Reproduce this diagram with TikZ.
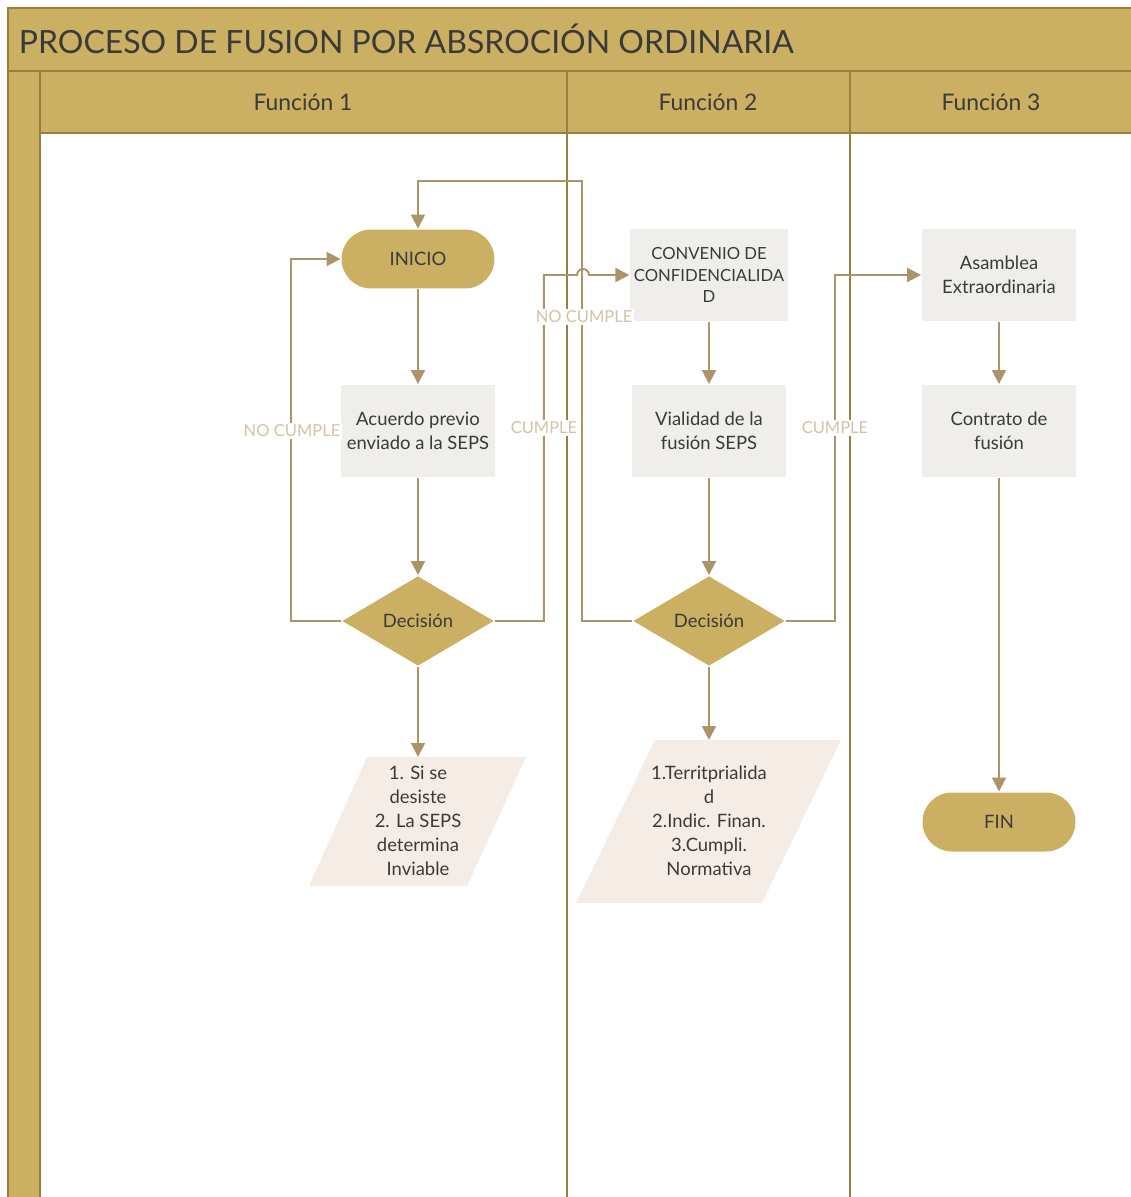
\documentclass[tikz,border=0pt]{standalone}
\usepackage{fontspec}
\setmainfont{Lato}
\usetikzlibrary{arrows.meta, positioning, shapes.geometric, calc}
\definecolor{cgold}{HTML}{CBAF62}
\definecolor{cgoldline}{HTML}{9B7F3F}
\definecolor{cflow}{HTML}{AD9468}
\definecolor{clabel}{HTML}{D2C3A6}
\definecolor{cbox}{HTML}{EFEEEA}
\definecolor{cpara}{HTML}{F6ECE6}
\definecolor{ctext}{HTML}{3A3A3A}
\tikzset{
  every picture/.style={line width=1.1pt},
  box/.style={fill=cbox, text=ctext, align=center, inner sep=2pt, minimum width=3.08cm, minimum height=1.84cm, font=\fontsize{10.5}{13.6}\selectfont},
  pill/.style={fill=cgold, text=ctext, align=center, rounded corners=0.59cm, minimum width=3.06cm, minimum height=1.18cm, font=\fontsize{10.5}{13.6}\selectfont},
  decide/.style={diamond, fill=cgold, text=ctext, inner sep=0pt, minimum width=3.04cm, minimum height=1.8cm, font=\fontsize{10.5}{13.6}\selectfont},
  flow/.style={-{Triangle[length=2.8mm, width=2.8mm]}, draw=cflow, line width=1.1pt},
  lane/.style={draw=cgoldline, line width=1.1pt},
  title/.style={text=ctext, font=\fontsize{18.2}{20}\selectfont},
}

\begin{document}
\begin{tikzpicture}[
    x=0.02cm, y=-0.02cm,
    lanehead/.style={text=ctext, font=\fontsize{13}{15}\selectfont},
    lbl/.style={fill=white, text=clabel, inner sep=1pt, font=\fontsize{9.4}{11}\selectfont},
    paratext/.style={text=ctext, align=center, font=\fontsize{10.5}{13.6}\selectfont},
  ]
  \useasboundingbox (0,0) rectangle (1131,1197);

  % pool and lanes
  \fill[cgold] (8,8) rectangle (1131,71);
  \fill[cgold] (8,71) rectangle (40,1197);
  \fill[cgold] (40,71) rectangle (1131,133);
  \draw[lane] (8,1197) -- (8,8) -- (1131,8);
  \draw[lane] (8,71) -- (1131,71);
  \draw[lane] (40,1197) -- (40,71);
  \draw[lane] (40,133) -- (1131,133);
  \draw[lane] (567,71) -- (567,1197);
  \draw[lane] (850,71) -- (850,1197);
  \node[title, anchor=west] (titulo) at (12,39) {PROCESO DE FUSION POR ABSROCIÓN ORDINARIA};
  \node[lanehead] (f1) at (303,102) {Función 1};
  \node[lanehead] (f2) at (708,102) {Función 2};
  \node[lanehead] (f3) at (991,102) {Función 3};

  % funcion 1
  \node[pill] (inicio) at (418,259) {INICIO};
  \node[box] (acuerdo) at (418,431) {Acuerdo previo\\enviado a la SEPS};
  \node[decide] (dec1) at (418,621) {Decisión};
  \fill[cpara] (309,886) -- (367,757) -- (526,757) -- (467,886) -- cycle;
  \node[paratext] (sal1) at (418,821) {1. Si se\\desiste\\2. La SEPS\\determina\\Inviable};
  \draw[flow] (inicio) -- (acuerdo);
  \draw[flow] (acuerdo) -- (dec1);
  \draw[flow] (dec1) -- (sal1.north |- 0,757);

  % funcion 2
  \node[box, font=\fontsize{9.5}{12}\selectfont] (conv) at (709,275) {CONVENIO DE\\CONFIDENCIALIDA\\D};
  \node[box] (vial) at (709,431) {Vialidad de la\\fusión SEPS};
  \node[decide] (dec2) at (709,621) {Decisión};
  \fill[cpara] (576,903) -- (655,740) -- (841,740) -- (762,903) -- cycle;
  \node[paratext] (sal2) at (709,821) {1.Territprialida\\d\\2.Indic. Finan.\\3.Cumpli.\\Normativa};
  \draw[flow] (conv) -- (vial);
  \draw[flow] (vial) -- (dec2);
  \draw[flow] (dec2) -- (sal2.north |- 0,740);

  % funcion 3
  \node[box] (asam) at (999,275) {Asamblea\\Extraordinaria};
  \node[box] (contrato) at (999,431) {Contrato de\\fusión};
  \node[pill] (fin) at (999,822) {FIN};
  \draw[flow] (asam) -- (contrato);
  \draw[flow] (contrato) -- (fin);

  % decisiones
  \coordinate (salto) at (577,275);
  \draw[flow] (dec1.west) -- ++(-50,0) |- (inicio.west);
  \draw[flow] (dec1.east) -- ++(49,0) |- (salto) arc[start angle=180, end angle=0, radius=0.12cm] -- (conv.west);
  \draw[flow] (dec2.west) -- ++(-50,0) -- ++(0,-440) -| (inicio.north);
  \draw[flow] (dec2.east) -- ++(49,0) |- (asam.west);
  \node[lbl] (nc1) at (292,431) {NO CUMPLE};
  \node[lbl] (c1) at (544,428) {CUMPLE};
  \node[lbl] (nc2) at (584,317) {NO CUMPLE};
  \node[lbl] (c2) at (835,428) {CUMPLE};
\end{tikzpicture}
\end{document}
